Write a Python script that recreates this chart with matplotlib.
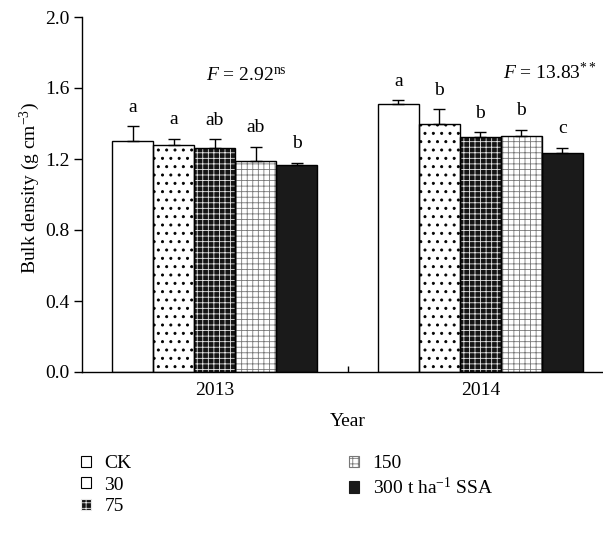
import matplotlib
matplotlib.use("Agg")
import matplotlib.pyplot as plt
import matplotlib.hatch as mhatch
from matplotlib.patches import Patch
import numpy as np

# ---------------- data ----------------
years = ["2013", "2014"]
treatments = ["CK", "30", "75", "150", "300 t ha$^{-1}$ SSA"]
bulk_2013 = [1.30, 1.28, 1.26, 1.19, 1.165]
bulk_2014 = [1.51, 1.40, 1.325, 1.33, 1.235]
err_2013 = [0.085, 0.035, 0.05, 0.08, 0.013]
err_2014 = [0.02, 0.08, 0.025, 0.035, 0.028]
letters_2013 = ["a", "a", "ab", "ab", "b"]
letters_2014 = ["a", "b", "b", "b", "c"]
f_texts = ["$F$ = 2.92$^{\\mathrm{ns}}$", "$F$ = 13.83$^{**}$"]
yticks = [0.0, 0.4, 0.8, 1.2, 1.6, 2.0]

# ---------------- style ----------------
plt.rcParams["font.family"] = ["Liberation Serif", "DejaVu Serif"]
plt.rcParams["mathtext.fontset"] = "custom"
plt.rcParams["mathtext.rm"] = "Liberation Serif"
plt.rcParams["mathtext.it"] = "Liberation Serif:italic"
plt.rcParams["mathtext.bf"] = "Liberation Serif:bold"
plt.rcParams["hatch.linewidth"] = 0.6
mhatch.SmallFilledCircles.size = 0.13

FS = 14

faces = ["white", "white", "#151515", "white", "#1a1a1a"]
hcols = ["black", "black", "#e8e8e8", "#777777", "#1a1a1a"]
hatches = [None, "..", "+++", "+++", None]

fig = plt.figure(figsize=(6.03, 5.37), dpi=100)
W, H = 603.0, 537.0
ax = fig.add_axes([82 / W, (H - 372) / H, 531 / W, 355 / H])

x = np.arange(len(years))
bw = 0.1545
data = [bulk_2013, bulk_2014]
errs = [err_2013, err_2014]
lets = [letters_2013, letters_2014]

for g in range(len(years)):
    for i in range(len(treatments)):
        xc = x[g] + (i - 2) * bw
        v = data[g][i]
        ax.bar(xc, v, width=bw, color=faces[i], edgecolor=hcols[i],
               hatch=hatches[i], linewidth=0, zorder=2)
        ax.bar(xc, v, width=bw, fill=False, edgecolor="black",
               linewidth=1.0, zorder=3)
        ax.errorbar(xc, v, yerr=[[0], [errs[g][i]]], fmt="none",
                    ecolor="black", elinewidth=1.0, capsize=4, capthick=1.0,
                    zorder=4)
        ax.text(xc, v + errs[g][i] + 0.06, lets[g][i], ha="center",
                va="bottom", fontsize=FS)

ax.text(0.118, 1.67, f_texts[0], ha="center", va="center", fontsize=FS)
ax.text(1.263, 1.685, f_texts[1], ha="center", va="center", fontsize=FS)

ax.set_xlim(-0.5, 1.5)
ax.set_ylim(0, 2.0)
ax.set_yticks(yticks)
ax.set_yticklabels([f"{t:.1f}" for t in yticks], fontsize=FS)
ax.tick_params(axis="y", direction="out", length=6, width=1, pad=3)
ax.set_xticks(x)
ax.set_xticklabels(years, fontsize=FS)
ax.tick_params(axis="x", which="major", length=0, pad=7)
ax.set_xticks([0.5], minor=True)
ax.tick_params(axis="x", which="minor", direction="in", length=4, width=1)
for s in ["top", "right"]:
    ax.spines[s].set_visible(False)
for s in ["left", "bottom"]:
    ax.spines[s].set_linewidth(1.0)

ax.set_xlabel("Year", fontsize=FS, labelpad=10)
fig.text(30 / W, 1 - 188 / H, "Bulk density (g cm$^{-3}$)", rotation=90,
         ha="center", va="center", fontsize=FS)

handles = [Patch(facecolor=faces[i],
                 edgecolor=("black" if i in (0, 1) else hcols[i]),
                 hatch=(None if i == 1 else hatches[i]), linewidth=0.8)
           for i in range(len(treatments))]
fig.legend(handles, treatments, loc="upper left",
           bbox_to_anchor=(81 / W, 1 - 455 / H), ncol=2, frameon=False,
           fontsize=FS, handlelength=0.5, handleheight=0.5,
           handletextpad=0.7, labelspacing=0.24, columnspacing=11.2,
           borderpad=0, borderaxespad=0)

fig.savefig("out.png", dpi=100)
